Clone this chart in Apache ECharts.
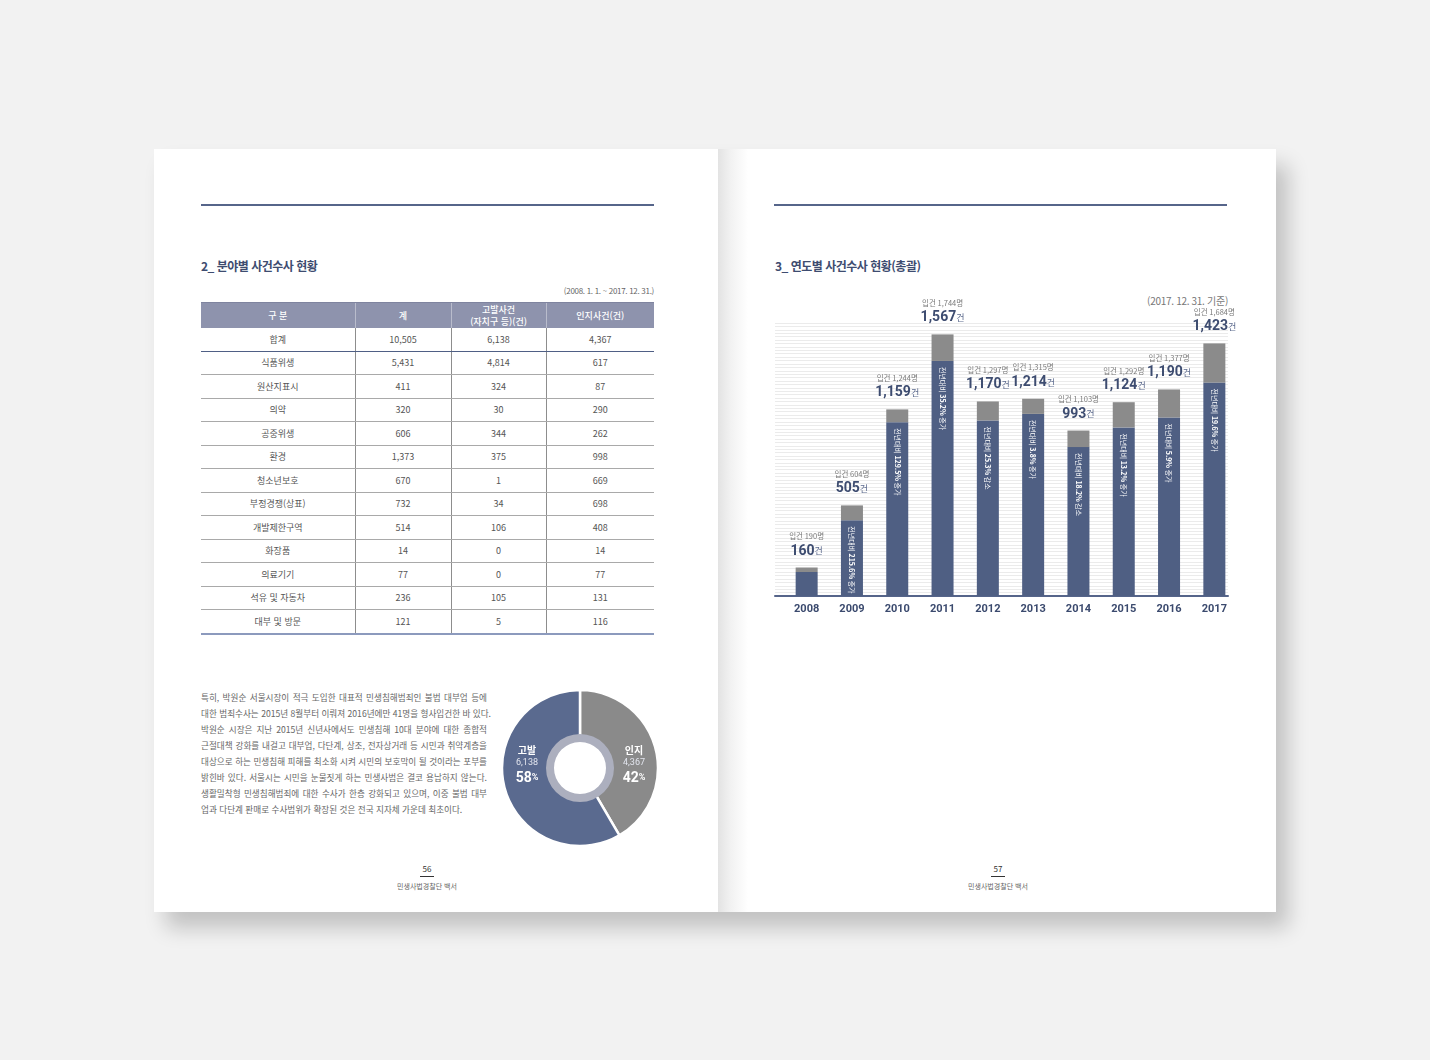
<!DOCTYPE html>
<html lang="ko">
<head>
<meta charset="utf-8">
<script src="https://cdn.jsdelivr.net/npm/echarts/dist/echarts.min.js"></script>
<style>
  html,body{margin:0;padding:0;}
  body{width:1430px;height:1060px;background:#f2f2f2;position:relative;overflow:hidden;
       font-family:"Noto Sans CJK KR","Noto Sans",sans-serif;}
  .shadow{position:absolute;left:154px;top:149px;width:1122px;height:763px;
          box-shadow:12px 16px 20px rgba(0,0,0,0.2);}
  .page{position:absolute;top:149px;height:763px;background:#fff;}
  #pl{left:154px;width:564px;}
  #pr{left:718px;width:558px;background:linear-gradient(to right,#e3e3e3 0px,#f1f1f1 12px,#ffffff 30px);}
  .rule{position:absolute;top:204px;height:2px;width:453px;background:#56658a;}
  .title{position:absolute;top:257px;font-size:12px;font-weight:700;color:#3e4c70;letter-spacing:-0.5px;white-space:nowrap;}
  .note{position:absolute;font-size:8px;color:#666;white-space:nowrap;letter-spacing:-0.3px;}
  table{position:absolute;left:201px;top:302px;width:453px;border-collapse:collapse;table-layout:fixed;}
  th{background:#8e93ad;color:#fff;font-size:9px;font-weight:500;height:25px;padding:0;line-height:12px;
     border-left:1px solid #b9bccc;border-top:1px solid #7f849f;}
  th:first-child{border-left:none;}
  td{height:22.5px;padding:0;text-align:center;font-size:9px;color:#555;border-bottom:1px solid #a9a9a9;
     border-left:1px solid #8d8d8d;}
  td:first-child{border-left:none;}
  tr.sum td{border-bottom:1.5px solid #4f5f85;}
  tr.last td{border-bottom:2px solid #8c9abd;}
  .para{position:absolute;left:201px;top:689px;width:286px;font-size:8.6px;color:#666;}
  .para div{height:16px;line-height:16px;text-align:justify;text-align-last:justify;white-space:nowrap;}
  .para div.end{text-align-last:left;}
  .pn{position:absolute;width:120px;text-align:center;}
  .pn .n{font-size:8px;color:#333;line-height:10px;}
  .pn .u{width:14px;height:1px;background:#333;margin:2px auto 5px auto;}
  .pn .t{font-size:7px;color:#666;line-height:9px;}
  #bar{position:absolute;left:760px;top:280px;width:490px;height:345px;}
  #donut{position:absolute;left:500px;top:688px;width:160px;height:160px;}
</style>
</head>
<body>
<div class="shadow"></div>
<div class="page" id="pl"></div>
<div class="page" id="pr"></div>

<div class="rule" style="left:201px"></div>
<div class="rule" style="left:774px"></div>

<div class="title" style="left:201px">2_ 분야별 사건수사 현황</div>
<div class="title" style="left:775px">3_ 연도별 사건수사 현황(총괄)</div>

<div class="note" style="right:776px;top:285px;">(2008. 1. 1. ~ 2017. 12. 31.)</div>
<div class="note" style="right:202px;top:293px;font-size:10px;color:#777;">(2017. 12. 31. 기준)</div>

<table id="tbl"></table>

<div class="para">
  <div>특히, 박원순 서울시장이 적극 도입한 대표적 민생침해범죄인 불법 대부업 등에</div>
  <div>대한 범죄수사는 2015년 8월부터 이뤄져 2016년에만 41명을 형사입건한 바 있다.</div>
  <div>박원순 시장은 지난 2015년 신년사에서도 민생침해 10대 분야에 대한 종합적</div>
  <div>근절대책 강화를 내걸고 대부업, 다단계, 상조, 전자상거래 등 시민과 취약계층을</div>
  <div>대상으로 하는 민생침해 피해를 최소화 시켜 시민의 보호막이 될 것이라는 포부를</div>
  <div>밝힌바 있다. 서울시는 시민을 눈물짓게 하는 민생사범은 결코 용납하지 않는다.</div>
  <div>생활밀착형 민생침해범죄에 대한 수사가 한층 강화되고 있으며, 이중 불법 대부</div>
  <div class="end">업과 다단계 판매로 수사범위가 확장된 것은 전국 지자체 가운데 최초이다.</div>
</div>

<div class="pn" style="left:367px;top:864px;"><div class="n">56</div><div class="u"></div><div class="t">민생사법경찰단 백서</div></div>
<div class="pn" style="left:938px;top:864px;"><div class="n">57</div><div class="u"></div><div class="t">민생사법경찰단 백서</div></div>

<div id="donut"></div>
<div id="bar"></div>

<script>
// ---- table data (2. 분야별 사건수사 현황) ----
const tableHeaders = ['구 분', '계', '고발사건<br>(자치구 등)(건)', '인지사건(건)'];
const tableFields = ['합계','식품위생','원산지표시','의약','공중위생','환경','청소년보호','부정경쟁(상표)','개발제한구역','화장품','의료기기','석유 및 자동차','대부 및 방문'];
const tableTotal = [10505,5431,411,320,606,1373,670,732,514,14,77,236,121];
const tableComplaint = [6138,4814,324,30,344,375,1,34,106,0,0,105,5];
const tableRecognized = [4367,617,87,290,262,998,669,698,408,14,77,131,116];

// ---- donut data ----
const donutNames = ['인지', '고발'];
const donutValues = [4367, 6138];

// ---- bar chart data (3. 연도별 사건수사 현황) ----
const years = ['2008','2009','2010','2011','2012','2013','2014','2015','2016','2017'];
const cases = [160,505,1159,1567,1170,1214,993,1124,1190,1423];
const persons = [190,604,1244,1744,1297,1315,1103,1292,1377,1684];
const changeRates = [null,'215.6%','129.5%','35.2%','25.3%','3.8%','18.2%','13.2%','5.9%','19.6%'];
const changeDirs = [null,'증가','증가','증가','감소','증가','감소','증가','증가','증가'];

const fmt = v => v.toLocaleString('en-US');

// build table
(function(){
  const t = document.getElementById('tbl');
  const widths = [154, 96, 95, 108];
  let html = '<colgroup>' + widths.map(w => '<col style="width:'+w+'px">').join('') + '</colgroup>';
  html += '<tr>' + tableHeaders.map(h => '<th>'+h+'</th>').join('') + '</tr>';
  tableFields.forEach((f, i) => {
    const cls = i === 0 ? 'sum' : (i === tableFields.length - 1 ? 'last' : '');
    html += '<tr class="'+cls+'"><td>'+f+'</td><td>'+fmt(tableTotal[i])+'</td><td>'+fmt(tableComplaint[i])+'</td><td>'+fmt(tableRecognized[i])+'</td></tr>';
  });
  t.innerHTML = html;
})();

// donut
(function(){
  const ch = echarts.init(document.getElementById('donut'), null, {renderer:'canvas'});
  const colors = ['#8a8a8a', '#5a6a8f'];
  ch.setOption({
    animation: false,
    series: [
      {
        type: 'pie', radius: [30, 78], center: ['50%','50%'], startAngle: 90, clockwise: true,
        itemStyle: { borderColor: '#fff', borderWidth: 2.5 },
        data: donutNames.map((n, i) => ({ name: n, value: donutValues[i], itemStyle: { color: colors[i] } })),
        label: {
          show: true, position: 'inside',
          formatter: p => '{n|' + p.name + '}\n{v|' + fmt(p.value) + '}\n{p|' + Math.round(p.percent) + '}{u|%}',
          rich: {
            n: { fontSize: 10, fontWeight: 'bold', color: '#fff', lineHeight: 13, fontFamily: 'Noto Sans CJK KR' },
            v: { fontSize: 9, color: '#e2e5ee', lineHeight: 13, fontFamily: 'Roboto' },
            p: { fontSize: 14, fontWeight: 'bold', color: '#fff', lineHeight: 17, fontFamily: 'Roboto' },
            u: { fontSize: 9, fontWeight: 'bold', color: '#fff', lineHeight: 17, fontFamily: 'Roboto' }
          }
        },
        labelLine: { show: false },
        labelLayout: function (params) {
          const cx = ch.getWidth() / 2, cy = ch.getHeight() / 2;
          return { x: params.dataIndex === 0 ? cx + 54 : cx - 53, y: cy - 3, align: 'center', verticalAlign: 'middle' };
        }
      },
      {
        type: 'pie', radius: [26, 34], center: ['50%','50%'], silent: true,
        label: { show: false }, labelLine: { show: false },
        itemStyle: { color: '#acafbe' },
        data: [{ value: donutValues[0] + donutValues[1], name: 'ring' }]
      }
    ]
  });
})();

// bar chart
(function(){
  const ch = echarts.init(document.getElementById('bar'), null, {renderer:'canvas'});
  const gray = persons.map((p, i) => p - cases[i]);
  ch.setOption({
    animation: false,
    grid: [
      { left: 24, top: 43, width: 453, height: 273 },   // bars
      { left: 15, top: 43, width: 453, height: 273 }    // striped backdrop + baseline
    ],
    xAxis: [
      {
        type: 'category', data: years, gridIndex: 0,
        axisLine: { show: false },
        axisTick: { show: false },
        axisLabel: { color: '#3b4a6e', fontSize: 11, fontWeight: 'bold', margin: 8, fontFamily: 'Roboto' }
      },
      {
        type: 'value', gridIndex: 1, min: 0, max: 1,
        axisLine: { show: true, onZero: false, lineStyle: { color: '#56658a', width: 2 } },
        axisTick: { show: false }, axisLabel: { show: false }, splitLine: { show: false }
      }
    ],
    yAxis: [
      {
        type: 'value', gridIndex: 0, min: 0, max: 1820,
        axisLine: { show: false }, axisTick: { show: false }, axisLabel: { show: false },
        splitLine: { show: false }
      },
      {
        type: 'value', gridIndex: 1, min: 0, max: 1820, interval: 22.75,
        axisLine: { show: false }, axisTick: { show: false }, axisLabel: { show: false },
        splitLine: { lineStyle: { color: '#ebebeb', width: 1 } }
      }
    ],
    series: [
      {
        type: 'bar', stack: 'total', barWidth: 22, data: cases,
        itemStyle: { color: '#4f5f83' },
        label: {
          show: true, position: 'insideTop', rotate: -90, align: 'left', verticalAlign: 'middle', distance: 6,
          formatter: p => changeRates[p.dataIndex] ? '{a|전년대비 }{b|' + changeRates[p.dataIndex] + '}{a| ' + changeDirs[p.dataIndex] + '}' : '',
          rich: {
            a: { fontSize: 7, color: '#fff', fontFamily: 'Noto Sans CJK KR' },
            b: { fontSize: 7, color: '#fff', fontWeight: 'bold', fontFamily: 'Noto Sans CJK KR' }
          }
        }
      },
      {
        type: 'bar', stack: 'total', barWidth: 22, data: gray,
        itemStyle: { color: '#8b8b8b' },
        label: {
          show: true, position: 'top', distance: 8,
          formatter: p => '{s|입건 ' + fmt(persons[p.dataIndex]) + '명}\n{n|' + fmt(cases[p.dataIndex]) + '}{u|건}',
          rich: {
            s: { fontSize: 7.5, color: '#7a7a7a', lineHeight: 13, fontFamily: 'Noto Sans CJK KR' },
            n: { fontSize: 14, fontWeight: 'bold', color: '#3d4c70', lineHeight: 17, fontFamily: 'Roboto' },
            u: { fontSize: 9, color: '#5d6b8e', lineHeight: 17, fontFamily: 'Noto Sans CJK KR' }
          }
        }
      }
    ]
  });
})();
</script>
</body>
</html>
